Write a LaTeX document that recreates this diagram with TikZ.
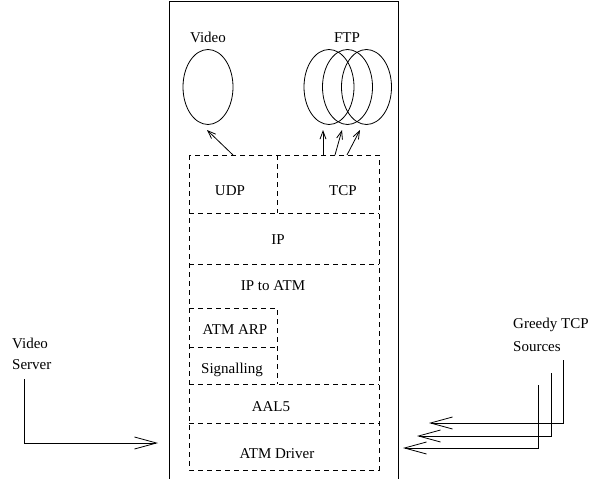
\documentclass[tikz,border=0pt]{standalone}
\usepackage{fontspec}
\setmainfont{Liberation Serif}
\usetikzlibrary{arrows.meta,shapes.geometric}
\begin{document}
\begin{tikzpicture}[x=1pt,y=-1pt,
  lbl/.style={font=\fontsize{15}{18}\selectfont, inner sep=0pt, anchor=base},
  lblw/.style={lbl, anchor=base west},
  lay/.style={dash pattern=on 5pt off 4pt, line width=0.8pt},
  ell/.style={draw, ellipse, minimum width=50pt, minimum height=75pt, inner sep=0pt, line width=0.8pt},
  bigarr/.style={-{Straight Barb[length=22pt,width=12pt,line width=0.8pt]}, line width=0.8pt},
  smallarr/.style={-{Straight Barb[length=8pt,width=6pt,line width=0.8pt]}, line width=0.8pt},
  frame/.style={line width=0.8pt}
]
\useasboundingbox (0,0) rectangle (595,479);

% outer host frame (open at the bottom)
\draw[frame] (169,479) -- (169,1.5) -- (398,1.5) -- (398,479);

% protocol stack (dashed)
\draw[lay] (189,155) rectangle (379,470);
\draw[lay] (277,155) -- (277,213);
\draw[lay] (189,213) -- (379,213);
\draw[lay] (189,264) -- (379,264);
\draw[lay] (189,308) -- (277,308) -- (277,384);
\draw[lay] (189,347) -- (277,347);
\draw[lay] (189,384) -- (379,384);
\draw[lay] (189,423) -- (379,423);

% layer labels
\node[lbl] (udp) at (230,195) {UDP};
\node[lbl] (tcp) at (343,195) {TCP};
\node[lbl] (ip) at (278,244) {IP};
\node[lbl] (ip2atm) at (273,290) {IP to ATM};
\node[lbl] (atmarp) at (235,334) {ATM ARP};
\node[lbl] (sig) at (232,373) {Signalling};
\node[lbl] (aal5) at (271,411) {AAL5};
\node[lbl] (drv) at (277,458) {ATM Driver};

% applications
\node[lbl] (vlabel) at (208,42) {Video};
\node[lbl] (flabel) at (347,42) {FTP};
\node[ell] (v) at (208,87) {};
\node[ell] (f1) at (329,87) {};
\node[ell] (f2) at (347.5,87) {};
\node[ell] (f3) at (366.5,87) {};

% arrows from transport to applications
\coordinate (ua) at (233,155);
\coordinate (vt) at (207,130);
\draw[smallarr] (ua) -- (vt);
\coordinate (t1) at (323,155);
\coordinate (t2) at (335,155);
\coordinate (t3) at (347,155);
\coordinate (h1) at (323,130);
\coordinate (h2) at (342,130);
\coordinate (h3) at (360,130);
\draw[smallarr] (t1) -- (h1);
\draw[smallarr] (t2) -- (h2);
\draw[smallarr] (t3) -- (h3);

% video server
\node[lblw] (vs1) at (12,348) {Video};
\node[lblw] (vs2) at (12,369) {Server};
\coordinate (vss) at (24,379);
\coordinate (vse) at (158,443);
\draw[bigarr] (vss) |- (vse);

% greedy TCP sources
\node[lblw] (gs1) at (513,328) {Greedy TCP};
\node[lblw] (gs2) at (513,351) {Sources};
\coordinate (g1s) at (563,360);
\coordinate (g2s) at (551,373);
\coordinate (g3s) at (538,385);
\coordinate (g1e) at (429,423);
\coordinate (g2e) at (417,436);
\coordinate (g3e) at (403,448);
\draw[bigarr] (g1s) |- (g1e);
\draw[bigarr] (g2s) |- (g2e);
\draw[bigarr] (g3s) |- (g3e);
\end{tikzpicture}
\end{document}
